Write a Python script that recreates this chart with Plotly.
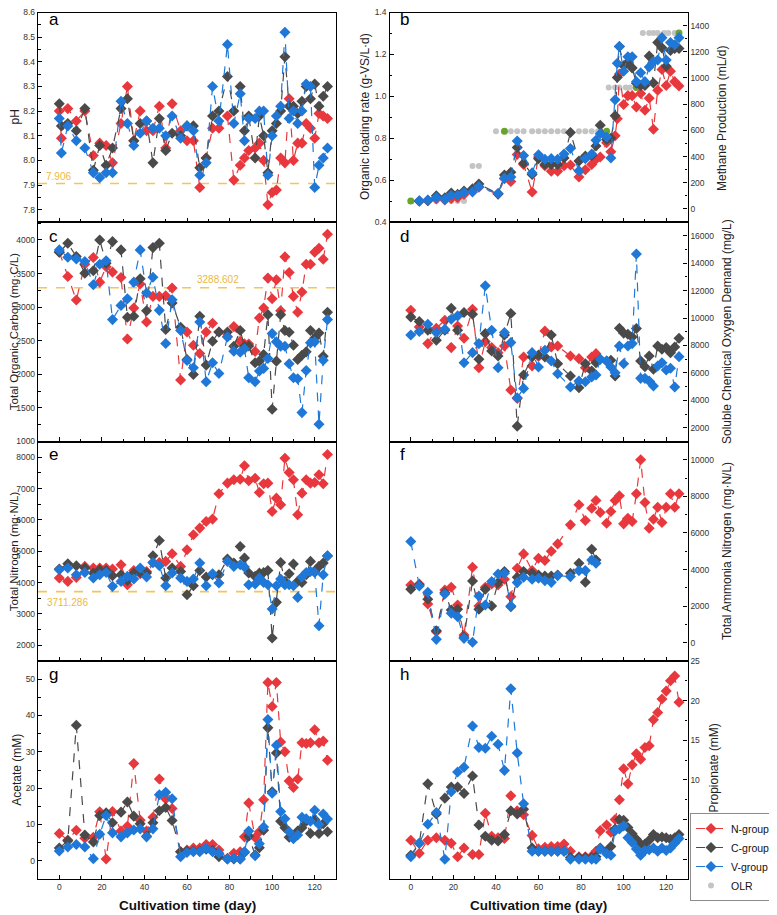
import plotly.graph_objects as go

# ---------------- data ----------------
DAYS = [0, 4, 8, 12, 16, 19, 22, 25, 29, 32, 35, 38, 41, 44, 47, 50, 53, 57, 60, 63,
        66, 69, 72, 75, 79, 82, 85, 87, 89, 92, 94, 96, 98, 100, 102, 104, 106, 108, 110,
        112, 114, 116, 118, 120, 122, 124, 126]

DAYS_PH = [0, 1, 4, 8, 12, 16, 19, 22, 25, 29, 32, 35, 38, 41, 44, 47, 50, 53, 57, 60,
           63, 66, 69, 72, 75, 79, 82, 85, 87, 89, 92, 94, 96, 98, 100, 102, 104, 106,
           108, 110, 112, 114, 116, 118, 120, 122, 124, 126]
PH_N = [8.20, 8.09, 8.21, 8.16, 8.20, 8.02, 8.07, 8.06, 7.99, 8.15, 8.30, 8.08, 8.20, 8.12,
        8.12, 8.22, 8.05, 8.23, 8.12, 8.08, 8.08, 7.89, 8.01, 8.13, 8.13, 8.18, 7.92, 7.98,
        8.01, 8.04, 8.05, 8.07, 8.00, 7.82, 7.87, 7.88, 8.01, 7.99, 8.25, 8.00, 8.07, 8.07,
        8.15, 8.13, 8.09, 8.19, 8.18, 8.17]
PH_C = [8.23, 8.14, 8.15, 8.12, 8.21, 7.96, 8.06, 7.98, 8.05, 8.21, 8.25, 8.08, 8.15, 8.16,
        7.99, 8.17, 8.04, 8.11, 8.10, 8.14, 8.14, 7.97, 8.01, 8.18, 8.20, 8.34, 8.20, 8.30,
        8.12, 8.18, 8.01, 8.18, 8.10, 7.95, 8.12, 8.15, 8.20, 8.42, 8.22, 8.22, 8.19, 8.24,
        8.30, 8.25, 8.31, 8.22, 8.26, 8.30]
PH_V = [8.17, 8.03, 8.14, 8.08, 8.05, 7.95, 7.93, 7.95, 7.95, 8.24, 8.15, 8.06, 8.11, 8.16,
        8.13, 8.13, 8.10, 8.18, 8.09, 8.14, 8.12, 7.94, 7.99, 8.30, 8.16, 8.47, 8.15, 8.27,
        8.08, 8.17, 8.17, 8.20, 8.20, 7.94, 8.10, 8.18, 8.22, 8.52, 8.17, 8.20, 8.15, 8.20,
        8.31, 8.30, 7.89, 7.98, 8.01, 8.05]
PH_REF = 7.906

DAYS_CH4 = [4, 8, 12, 16, 19, 22, 25, 29, 32, 41, 44, 47, 50, 53, 57, 60, 63, 66, 69, 72,
            75, 79, 82, 85, 87, 89, 92, 94, 96, 97, 98, 100, 102, 104, 106, 108, 110, 112,
            114, 116, 118, 120, 122, 124, 126]
CH4_N = [58, 62, 75, 68, 80, 85, 110, 145, 165, 113, 230, 209, 416, 340, 129, 396, 330, 287,
         287, 330, 335, 243, 299, 340, 379, 396, 506, 437, 559, 688, 1030, 797, 865, 865,
         778, 882, 753, 846, 608, 906, 1065, 943, 1052, 972, 938]
CH4_C = [60, 65, 100, 85, 122, 112, 136, 153, 190, 115, 258, 280, 469, 348, 263, 384, 340,
         340, 340, 389, 583, 365, 403, 408, 480, 639, 530, 540, 712, 1004, 1240, 1094, 1120,
         1077, 960, 943, 943, 1167, 962, 1271, 1230, 1089, 1210, 1225, 1225]
CH4_V = [63, 68, 87, 73, 104, 104, 126, 130, 170, 117, 235, 243, 518, 408, 275, 413, 379,
         384, 379, 420, 462, 292, 384, 420, 525, 574, 549, 389, 834, 1113, 1240, 1052, 1162,
         1162, 972, 1040, 972, 1084, 1125, 1137, 1308, 1137, 1271, 1254, 1308]

DAYS_OLR = [0, 4, 8, 12, 16, 19, 22, 25, 29, 32, 40, 44, 47, 50, 53, 57, 60, 63, 66, 69, 72,
            75, 79, 82, 85, 88, 92, 93, 96, 98, 101, 103, 106, 109, 112, 114, 116, 119, 121,
            124, 126]
OLR = [0.5, 0.5, 0.5, 0.5, 0.5, 0.5, 0.5, 0.5, 0.667, 0.667, 0.833, 0.833, 0.833, 0.833,
       0.833, 0.833, 0.833, 0.833, 0.833, 0.833, 0.833, 0.833, 0.833, 0.833, 0.833, 0.833,
       0.833, 1.042, 1.042, 1.042, 1.042, 1.042, 1.042, 1.302, 1.302, 1.302, 1.302, 1.302,
       1.302, 1.302, 1.302]
DAYS_OLR_STEP = [0, 44, 92, 106, 126]
OLR_STEP = [0.5, 0.833, 0.833, 1.042, 1.302]

TOC_N = [3820, 3456, 3105, 3640, 3738, 3372, 3600, 3521, 3441, 2527, 2987, 3343, 2779, 3160,
         3160, 3170, 3283, 1914, 2631, 2433, 2310, 2631, 2760, 2631, 2562, 2710, 2493, 2453,
         2450, 2340, 2839, 2987, 3432, 3125, 3407, 2947, 3748, 3516, 3160, 2923, 3224, 3639,
         3639, 3817, 3876, 3713, 4084]
TOC_C = [3817, 3950, 3753, 3506, 3540, 4000, 3654, 3975, 3852, 2848, 2863, 3422, 2947, 3886,
         3950, 2666, 3061, 2700, 2221, 1998, 2863, 2137, 2493, 2631, 2631, 2419, 2651, 2419,
         2420, 2172, 2196, 2295, 2888, 1480, 2196, 2888, 2651, 2626, 2433, 2221, 2285, 2334,
         2651, 2542, 2616, 2270, 2923]
TOC_V = [3852, 3743, 3718, 3679, 3333, 3639, 3689, 2814, 3026, 3125, 3372, 3852, 3209, 3446,
         2952, 2458, 3110, 2651, 2206, 2097, 2779, 1890, 2172, 2013, 2557, 2344, 2330, 2379,
         1949, 1890, 2048, 2088, 2236, 2606, 2483, 2419, 2419, 2157, 1949, 1934, 1430, 2058,
         2468, 2483, 1257, 2211, 2814]
TOC_REF = 3288.602

SCOD_N = [10570, 9352, 8135, 9255, 9840, 7843, 9425, 8525, 10643, 6382, 8281, 7843, 7478,
          7965, 4750, 4141, 7161, 6503, 7200, 9060, 7891, 7965, None, 7234, 7039, 6382, 7161,
          7404] + [None] * 19
SCOD_C = [10083, 9742, 9109, 8378, 9109, 10716, 9109, 10400, 10278, 6990, 8865, 7600, 7234,
          8768, 10327, 2120, 5846, 7161, 7307, 7161, 8768, 6673, None, 5773, 4920, 6673, 6138,
          6747, 7000, 6869, 6917, 5773, 9255, 8900, 8816, 8622, 9230, 6869, 6455, 7234, 6260,
          7965, 7721, 7843, 7478, 7891, 8525]
SCOD_V = [8768, 9012, 9547, 8938, 9182, 9912, 10156, 6747, 7478, 8135, 12348, 9109, 6382,
          8938, 8208, 4190, 4872, 7478, 6430, 7648, 6869, 5944, None, 4969, 5407, 5359, 5700,
          5846, 6990, 6869, 6430, 6016, 7965, 6673, 7965, 8135, 14661, 5603, 5603, 5407, 5042,
          6503, 6747, 6211, 6333, 4969, 7185]

TN_N = [4145, 4039, 4166, 4517, 4464, 4464, 4464, 4432, 4570, 3932, 4389, 4283, 4357, 4644,
        4644, 4677, 4920, 4517, 5048, 5525, 5738, 5950, 6025, 6832, 7172, 7278, 7299, 7724,
        7246, 7331, 6874, 7150, 7172, 6269, 6694, 6481, 7968, 7511, 7278, 6163, 6853, 7278,
        7172, 7193, 7437, 7150, 8085]
TN_C = [4432, 4602, 4538, 4464, 4304, 4411, 4389, 4219, 4251, 4071, 4304, 4325, 4304, 4856,
        5345, 4145, 4464, 4357, 3614, 3900, 4389, 4177, 4251, 4251, 4750, 4623, 5154, 4782,
        4304, 4198, 4304, 4325, 4389, 2233, 3370, 4644, 4039, 4283, 4591, 4039, 4007, 4251,
        4677, 4357, 4517, 4623, 4850]
TN_V = [4411, 4464, 4251, 4325, 4145, 4251, 4325, 3880, 4039, 4198, 4113, 4464, 4177, 4644,
        4538, 3900, 4304, 4145, 4039, 4113, 4623, 3900, 4283, 3986, 4677, 4517, 4570, 4496,
        3932, 3954, 4145, 4007, 3932, 3157, 3900, 4113, 3932, 3932, 3900, 3529, 4177, 4325,
        4357, 4325, 2626, 4251, 4856]
TN_REF = 3711.286

TAN_N = [3157, 3212, 2117, 602, 2884, 3030, 2062, 420, 4125, 2008, 3030, 3212, 3157, 3468,
         2519, 4070, 4855, 3942, 4617, 4490, 5000, 5402, None, 6442, 7537, 6680, 7355, 7775,
         7118, 6534, 7172, 7775, 8030, 6497, 6807, 6625, 8140, 10001, 7665, 6260, 6753, 7410,
         6570, 7410, 8140, 7410, 8140]
TAN_C = [2920, 3157, 2372, 657, 2737, 1788, 1825, 292, 3376, 1825, 2920, 2008, 3285, 3887,
         1971, 3577, 3887, 3796, 3705, 3650, 3650, 3705, None, 3796, 4343, 3303, 5110,
         4526] + [None] * 19
TAN_V = [5530, 3102, 2756, 183, 2664, 1606, 1424, 237, 30, 2555, 2062, 3340, 3760, 3796, 2008,
         3285, 3577, 3468, 3522, 3395, 3300, 3668, None, 3614, 3942, 3942, 4526,
         4343] + [None] * 19

ACE_N = [7.5, 5.7, 8.4, 6.2, 6.5, 13.5, 0.5, 13.6, 8.2, 9.5, 26.8, 11.2, 8.2, 12.0, 22.5,
         17.0, 14.4, 2.5, 3.0, 3.5, 3.5, 4.5, 4.5, 3.0, 0.7, 2.1, 2.5, 6.6, 15.9, 6.4, 8.0,
         16.8, 49.1, 42.5, 49.1, 32.7, 30.0, 22.0, 20.2, 22.5, 32.5, 32.3, 32.5, 36.1, 32.5,
         33.0, 27.7]
ACE_C = [3.5, 5.5, 37.3, 7.1, 5.2, 12.5, 13.2, 10.5, 13.4, 16.2, 12.3, 10.2, 6.8, 10.5, 13.8,
         14.7, 11.1, 2.5, 2.7, 2.7, 2.7, 3.2, 2.9, 1.1, 0.5, 0.5, 0.5, 2.3, 6.8, 1.6, 3.6, 8.4,
         36.6, 19.0, 29.7, 10.9, 9.1, 6.5, 6.4, 8.2, 9.1, 10.9, 7.5, 11.4, 7.5, 10.2, 8.0]
ACE_V = [2.7, 3.8, 4.5, 3.8, 0.6, 7.3, 12.5, 7.7, 6.6, 7.7, 8.5, 8.8, 6.6, 8.8, 18.2, 18.9,
         17.1, 1.1, 2.3, 2.5, 2.5, 3.5, 2.5, 2.1, 0.5, 0.7, 0.5, 2.5, 8.2, 1.4, 4.7, 9.3, 38.9,
         18.6, 31.8, 13.6, 11.6, 8.0, 6.1, 7.1, 12.0, 11.6, 10.9, 13.9, 10.0, 12.9, 11.5]

PRO_N = [2.4, 0.75, 2.4, 2.7, 2.4, 2.0, 0.3, 1.4, 0.6, 0.6, 5.8, 2.9, 2.7, 2.6, 8.0, 6.1, 5.6,
         3.0, 1.3, 1.5, 1.6, 1.6, 1.9, 1.0, 0.3, 0.3, 0.4, 1.0, 3.6, 4.3, 3.4, 5.0, 7.5, 11.4,
         9.5, 11.9, 13.3, 12.6, 14.1, 14.3, 17.6, 18.5, 20.2, 21.2, 22.5, 23.1, 19.8]
PRO_C = [0.5, 2.0, 9.5, 5.7, 7.7, 9.1, 9.1, 8.3, 10.5, 4.3, 2.9, 2.4, 2.3, 3.1, 6.1, 5.7, 6.3,
         1.4, 1.0, 1.0, 1.0, 1.0, 1.0, 0.2, 0.2, 0.2, 0.2, 0.3, 1.4, 1.0, 1.6, 3.8, 5.0, 4.9,
         4.0, 3.2, 2.5, 1.9, 1.9, 2.4, 3.1, 2.7, 2.8, 2.7, 2.5, 2.7, 3.1]
PRO_V = [0.3, 2.0, 4.4, 5.9, 0.0, 8.5, 11.0, 11.6, 16.8, 14.1, 14.0, 15.5, 14.5, 11.2, 21.5,
         13.4, 7.0, 1.0, 1.0, 1.0, 1.0, 1.0, 1.0, 0.0, 0.0, 0.0, 0.0, 0.0, 1.3, 0.7, 0.5, 3.6,
         3.8, 4.2, 2.7, 2.1, 1.3, 0.5, 1.1, 1.2, 1.4, 1.0, 1.4, 1.1, 1.4, 2.0, 2.6]

GROUPS = ["N-group", "C-group", "V-group"]
COLORS = ["#E8383D", "#4A4A4A", "#1F78D8"]
OLR_COLOR = "#C4C4C4"
STEP_COLOR = "#66A52A"
REF_COLOR = "#F3C55A"
REF_TEXT = "#EBB93F"

# ---------------- layout geometry (page pixels) ----------------
W, H = 777, 915
OFF = 8  # default page body margin
FONT = "Liberation Sans, Arial, sans-serif"
COLS = [(38, 336), (389.5, 687.5)]
ROWS = [(12.5, 222), (222, 441.5), (441.5, 661), (661, 879)]


def px(x):
    return (x - OFF) / W


def py(y):
    return min(1.0, max(0.0, 1 - (y - OFF) / H))


def xd(p0, p1):
    return [px(p0), px(p1)]


def yd(p0, p1):
    return [py(p1), py(p0)]


fig = go.Figure()

AX_LINE = dict(showline=True, linecolor="black", linewidth=1.4, showgrid=False,
               zeroline=False, ticks="inside", ticklen=4, tickwidth=1.1, tickcolor="black",
               ticklabeloverflow="allow",
               tickfont=dict(family=FONT, size=8.5, color="#333333"), automargin=False)


def add_series(xs, ys_list, xa, ya, show_legend=False):
    for i, ys in enumerate(ys_list):
        fig.add_trace(go.Scatter(
            x=xs, y=ys, xaxis=xa, yaxis=ya, mode="lines+markers",
            name=GROUPS[i], legendgroup=GROUPS[i], showlegend=show_legend,
            legendrank=i + 1, connectgaps=True,
            line=dict(color=COLORS[i], width=1.2, dash="dash"),
            marker=dict(symbol="diamond", size=8.5, color=COLORS[i], line=dict(width=0))))


# panel b OLR (behind)
fig.add_trace(go.Scatter(x=DAYS_OLR, y=OLR, xaxis="x2", yaxis="y2", mode="markers",
                         name="OLR", showlegend=True, legendrank=4,
                         marker=dict(symbol="circle", size=6, color=OLR_COLOR)))
fig.add_trace(go.Scatter(x=DAYS_OLR_STEP, y=OLR_STEP, xaxis="x2", yaxis="y2", mode="markers",
                         showlegend=False, hoverinfo="skip",
                         marker=dict(symbol="circle", size=7, color=STEP_COLOR)))

add_series(DAYS_PH, [PH_N, PH_C, PH_V], "x", "y")
add_series(DAYS_CH4, [CH4_N, CH4_C, CH4_V], "x2", "y9", show_legend=True)
add_series(DAYS, [TOC_N, TOC_C, TOC_V], "x3", "y3")
add_series(DAYS, [SCOD_N, SCOD_C, SCOD_V], "x4", "y4")
add_series(DAYS, [TN_N, TN_C, TN_V], "x5", "y5")
add_series(DAYS, [TAN_N, TAN_C, TAN_V], "x6", "y6")
add_series(DAYS, [ACE_N, ACE_C, ACE_V], "x7", "y7")
add_series(DAYS, [PRO_N, PRO_C, PRO_V], "x8", "y8")

# y axis specs: (range, dtick, minor, tickformat)
YSPEC = {
    1: ([7.75, 8.6], 0.1, 0.05, ".1f"),
    2: ([0.4, 1.4], 0.2, 0.1, ".1f"),
    3: ([1000, 4267], 500, 250, "d"),
    4: ([1000, 17000], 2000, 1000, "d"),
    5: ([1500, 8500], 1000, 500, "d"),
    6: ([-1000, 11000], 2000, 1000, "d"),
    7: ([-5, 55], 10, 5, "d"),
    8: ([-2.5, 25], 5, 2.5, "d"),
}

layout_axes = {}
for p in range(1, 9):
    col = (p - 1) % 2
    row = (p - 1) // 2
    xname = "xaxis" if p == 1 else f"xaxis{p}"
    yname = "yaxis" if p == 1 else f"yaxis{p}"
    yid = "y" if p == 1 else f"y{p}"
    xid = "x" if p == 1 else f"x{p}"
    layout_axes[xname] = dict(
        AX_LINE, domain=xd(*COLS[col]), anchor=yid, range=[-10, 130], tick0=0, dtick=20,
        mirror=True, showticklabels=(row == 3),
        minor=dict(dtick=10, tick0=0, ticks="inside", ticklen=2.5, tickcolor="black"))
    rng, dt, mn, fmt = YSPEC[p]
    side = "left" if (col == 0 or p == 2) else "right"
    layout_axes[yname] = dict(
        AX_LINE, domain=yd(*ROWS[row]), anchor=xid, range=rng, tick0=0, dtick=dt,
        side=side, mirror=(p != 2), tickformat=fmt,
        minor=dict(dtick=mn, tick0=0, ticks="inside", ticklen=2.5, tickcolor="black"))

layout_axes["yaxis9"] = dict(
    AX_LINE, anchor="x2", overlaying="y2", side="right", range=[-100, 1500], tick0=0,
    dtick=200, tickformat="d",
    minor=dict(dtick=100, tick0=0, ticks="inside", ticklen=2.5, tickcolor="black"))

fig.update_layout(**layout_axes)

# reference lines
shapes = []
annotations = []
for (yref, val, txt, tx, ty, anchor) in [
        ("y", PH_REF, "7.906", 44, 177, "left"),
        ("y3", TOC_REF, "3288.602", 218, 280, "center"),
        ("y5", TN_REF, "3711.286", 45, 602, "left")]:
    xr = "x" if yref == "y" else "x" + yref[1:]
    shapes.append(dict(type="line", xref=f"{xr} domain", x0=0, x1=1, yref=yref, y0=val,
                       y1=val, line=dict(color=REF_COLOR, width=1.6, dash="dash"),
                       layer="below"))
    annotations.append(dict(text=txt, x=px(tx), y=py(ty), xref="paper", yref="paper",
                            xanchor=anchor, yanchor="middle", showarrow=False,
                            font=dict(family=FONT, size=10, color=REF_TEXT)))

# panel letters
letters = "abcdefgh"
LETTER_Y = [19, 236, 455, 674]
for p in range(8):
    col = p % 2
    row = p // 2
    annotations.append(dict(text=letters[p], x=px(COLS[col][0] + 9),
                            y=py(LETTER_Y[row]), xref="paper", yref="paper",
                            xanchor="left", yanchor="middle", showarrow=False,
                            font=dict(family=FONT, size=17, color="black")))

# axis titles (size, x center, y center)
titles = [
    ("pH", 12, 14.5, 117), ("Total Organic Carbon (mg·C/L)", 11.5, 14.2, 332),
    ("Total Nitrogen (mg·N/L)", 11.5, 14.2, 551), ("Acetate (mM)", 12, 16.7, 770),
    ("Organic loading rate (g-VS/L·d)", 12, 365, 117),
    ("Methane Production (mL/d)", 12, 722, 119),
    ("Soluble Chemical Oxygen Demand (mg/L)", 12, 727, 332),
    ("Total Ammonia Nitrogen (mg·N/L)", 12, 727, 551), ("Propionate (mM)", 12, 713.5, 768),
]
for txt, fs, x, y in titles:
    annotations.append(dict(text=txt, x=px(x), y=py(y), xref="paper", yref="paper",
                            xanchor="center", yanchor="middle", textangle=-90,
                            showarrow=False,
                            font=dict(family=FONT, size=fs, color="#222222")))

for cx in [(COLS[0][0] + COLS[0][1]) / 2, (COLS[1][0] + COLS[1][1]) / 2]:
    annotations.append(dict(text="<b>Cultivation time (day)</b>", x=px(cx), y=py(905),
                            xref="paper", yref="paper", xanchor="center", yanchor="middle",
                            showarrow=False,
                            font=dict(family=FONT, size=13.5, color="#111111")))

fig.update_layout(
    width=W, height=H, margin=dict(l=0, r=0, t=0, b=0),
    paper_bgcolor="white", plot_bgcolor="white",
    font=dict(family=FONT, color="#222222"),
    shapes=shapes, annotations=annotations,
    legend=dict(x=px(690), y=py(857), xanchor="left", yanchor="middle",
                bgcolor="white", bordercolor="#8c8c8c", borderwidth=1,
                font=dict(family=FONT, size=10.5, color="#111111"),
                itemwidth=30, tracegroupgap=0),
    showlegend=True,
)

fig.write_html("out.html")
